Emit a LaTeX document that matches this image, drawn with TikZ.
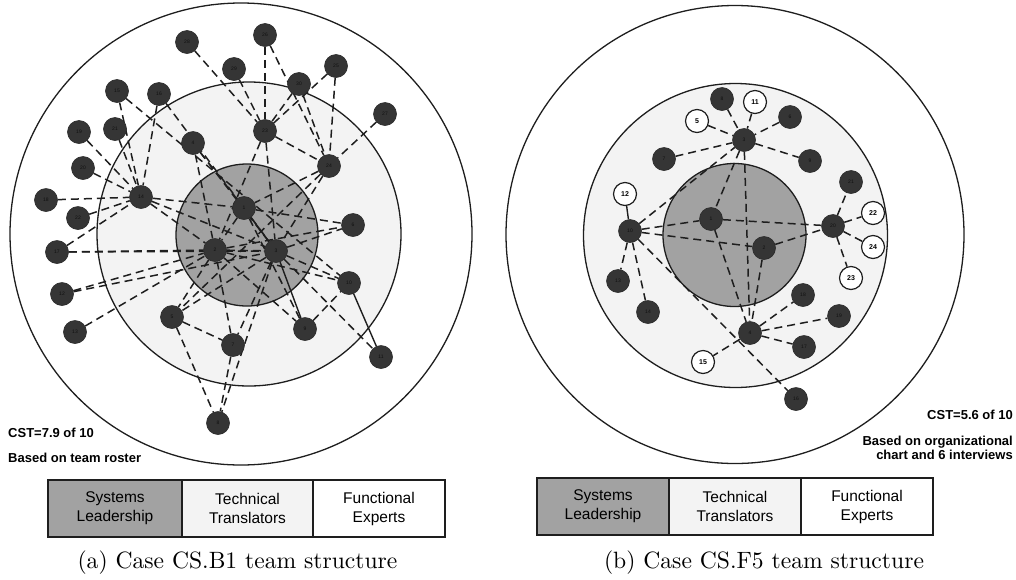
\documentclass[tikz,border=0pt]{standalone}
\usepackage{fontspec}
\setsansfont{Liberation Sans}
\pgfdeclarelayer{back}
\pgfdeclarelayer{mid}
\pgfsetlayers{back,mid,main}
\definecolor{nodeg}{HTML}{353535}
\definecolor{innerg}{HTML}{A2A2A2}
\definecolor{midg}{HTML}{F3F3F3}
\definecolor{lineg}{HTML}{1E1E1E}
\definecolor{labg}{HTML}{101010}
\begin{document}
\begin{tikzpicture}[x=1pt,y=-1pt,
  ring/.style={draw=lineg,line width=1.3pt},
  fn/.style={circle,fill=nodeg,draw=nodeg!80!black,line width=0.6pt,minimum size=23pt,inner sep=0pt,
    font=\sffamily\fontsize{5}{5}\selectfont,text=labg},
  wn/.style={circle,fill=white,draw=lineg,line width=1.2pt,minimum size=23pt,inner sep=0pt,
    font=\sffamily\bfseries\fontsize{7}{7}\selectfont},
  de/.style={draw=lineg,line width=1.5pt,dash pattern=on 8pt off 5pt},
  se/.style={draw=lineg,line width=1.4pt},
  legbox/.style={draw=lineg,line width=1.2pt,minimum height=57pt,inner sep=0pt,align=center,
    font=\sffamily\fontsize{15.5}{19}\selectfont},
  note/.style={font=\sffamily\bfseries\fontsize{13}{14}\selectfont,inner sep=0pt},
  capt/.style={font=\rmfamily\fontsize{10}{12}\selectfont,inner sep=0pt,scale=2.36}
]
\useasboundingbox (0,0) rectangle (1016,579);

% ---------- rings ----------
\begin{pgfonlayer}{back}
\draw[ring,fill=white] (241,234) circle [radius=231pt];
\draw[ring,fill=midg] (249,234) circle [radius=152pt];
\draw[ring,fill=innerg] (247,235) circle [radius=71pt];
\draw[ring,fill=white] (735,234.5) circle [radius=229pt];
\draw[ring,fill=midg] (735.5,235.5) circle [radius=152pt];
\draw[ring,fill=innerg] (734.5,235) circle [radius=71.5pt];
\end{pgfonlayer}

% ---------- left nodes ----------
\foreach \n/\x/\y in {1/244/208,2/215/250,3/276/251,4/193/143,5/172/317,6/353/225,7/233/345,
  8/218/423,9/305/329,10/349/283,11/381/357,12/62/294,13/75/332,14/141/197,15/117/91,
  16/159/94,17/57/252,18/46/200,19/79/132,20/83/168,21/115/129,22/78/218,23/265/131,
  24/329/166,25/336/66,26/265/35,27/385/114,28/187/42,29/234/69,30/299/84}
  \node[fn] (L\n) at (\x,\y) {\n};

% ---------- right nodes ----------
\foreach \n/\x/\y in {1/711/219,2/764/248,3/744/140,4/750/333,6/790/117,7/664/159,8/722/99,
  9/810/161,10/630/231,13/618/281,14/648/312,16/796/399,17/804/347,18/803/295,19/839/316,
  20/833/226,21/851/182}
  \node[fn] (R\n) at (\x,\y) {\n};
\foreach \n/\x/\y in {5/697/121,11/755/102,12/625/194,15/703/362,22/873/213,23/851/278,24/873/247}
  \node[wn] (R\n) at (\x,\y) {\n};

% ---------- connectors ----------
\begin{pgfonlayer}{mid}
\foreach \a/\b in {28/23,26/23,26/24,29/23,25/23,25/24,30/23,30/24,27/24,23/24,23/2,23/3,
  24/5,24/3,24/1,15/14,16/14,21/14,19/14,20/14,18/14,22/14,17/14,15/10,16/3,4/2,4/3,4/1,
  14/2,14/3,14/1,17/2,17/3,12/2,13/2,12/3,1/2,2/3,1/6,2/6,3/6,2/10,3/10,9/10,3/11,2/9,
  2/5,3/5,5/7,5/8,7/8,2/7,3/7,3/8,1/9}
  \draw[de] (L\a) -- (L\b);
\foreach \a/\b in {3/9,10/11,1/3}
  \draw[se] (L\a) -- (L\b);

\foreach \a/\b in {8/3,11/3,5/3,6/3,3/9,7/3,10/3,3/1,3/4,10/1,10/2,1/20,2/20,1/4,2/4,
  10/13,10/14,10/16,20/21,20/22,20/24,20/23,4/18,4/19,4/17,4/15}
  \draw[de] (R\a) -- (R\b);
\draw[se] (R10) -- (R12);
\end{pgfonlayer}

% ---------- notes ----------
\node[note,anchor=base west] (n1) at (8,437) {CST=7.9 of 10};
\node[note,anchor=base west] (n2) at (8,462) {Based on team roster};
\node[note,anchor=base east] (n3) at (1013,419) {CST=5.6 of 10};
\node[note,anchor=base east] (n4) at (1013,445) {Based on organizational};
\node[note,anchor=base east] (n5) at (1013,459) {chart and 6 interviews};

% ---------- legends ----------
\node[legbox,fill=innerg,minimum width=134pt] (la) at (115,508.5) {Systems\\Leadership};
\node[legbox,fill=midg,minimum width=131pt] (lb) at (247.5,508.5) {Technical\\Translators};
\node[legbox,fill=white,minimum width=132pt] (lc) at (379,508.5) {Functional\\Experts};
\node[legbox,fill=innerg,minimum width=132pt] (ra) at (603,506.5) {Systems\\Leadership};
\node[legbox,fill=midg,minimum width=132pt] (rb) at (735,506.5) {Technical\\Translators};
\node[legbox,fill=white,minimum width=132pt] (rc) at (867,506.5) {Functional\\Experts};

% ---------- captions ----------
\node[capt] (ca) at (237.5,563) {(a) Case CS.B1 team structure};
\node[capt] (cb) at (764,563) {(b) Case CS.F5 team structure};
\end{tikzpicture}
\end{document}
